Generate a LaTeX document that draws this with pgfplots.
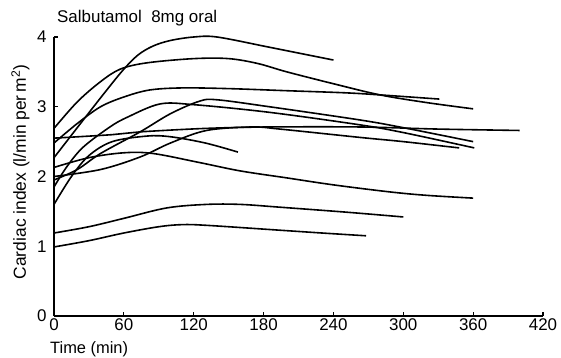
\documentclass[border=0pt]{standalone}
\usepackage{pgfplots}
\pgfplotsset{compat=1.18}
\usepackage{fontspec}
\setmainfont{Liberation Sans}
\begin{document}
\begin{tikzpicture}[x=1bp,y=1bp]
\begin{axis}[
  at={(0,0)}, anchor=south west,
  scale only axis, width=489bp, height=279bp,
  xmin=0, xmax=420, ymin=0, ymax=4,
  axis lines=left, axis line style={-, line width=1.3bp},
  xtick={0,60,...,420}, ytick={0,1,2,3,4},
  tick align=inside, major tick length=4bp,
  tick style={line width=1.1bp, black},
  /pgf/number format/assume math mode=true,
  ticklabel style={font=\fontsize{17}{19}\selectfont},
  yticklabel style={xshift=-4bp},
  xticklabel style={yshift=1bp},
  clip=false,
  cycle list={{black, solid}},
  every axis plot post/.append style={black, solid, line width=1.6bp, smooth, tension=0.55, mark=none},
]
% A
\addplot coordinates {(0,2.27)(20,2.7)(42,3.17)(59,3.52)(72,3.74)(85,3.87)(100,3.95)(120,4.0)(140,4.0)(183,3.86)(210,3.77)(240,3.67)};
% B
\addplot coordinates {(0,2.69)(20,3.07)(40,3.36)(57,3.54)(80,3.63)(120,3.69)(150,3.69)(175,3.62)(200,3.5)(240,3.33)(280,3.17)(320,3.06)(360,2.97)};
% C
\addplot coordinates {(0,2.48)(20,2.76)(40,3.0)(60,3.14)(82,3.24)(110,3.27)(150,3.26)(200,3.23)(250,3.2)(280,3.17)(331,3.11)};
% D
\addplot coordinates {(0,2.55)(50,2.6)(74,2.64)(131,2.69)(185,2.71)(263,2.71)(330,2.68)(400,2.66)};
% E
\addplot coordinates {(0,1.95)(20,2.1)(40,2.33)(74,2.64)(100,2.9)(125,3.08)(140,3.1)(185,3.0)(263,2.81)(300,2.7)(360,2.5)};
% F
\addplot coordinates {(0,1.85)(11,2.14)(25,2.42)(48,2.71)(63,2.85)(91,3.04)(120,3.03)(185,2.92)(263,2.74)(300,2.63)(361,2.41)};
% G
\addplot coordinates {(0,2.0)(40,2.1)(74,2.28)(100,2.48)(131,2.66)(170,2.71)(194,2.68)(263,2.56)(300,2.5)(348,2.41)};
% H
\addplot coordinates {(0,1.6)(15,2.0)(30,2.3)(50,2.5)(80,2.58)(100,2.57)(130,2.48)(158,2.35)};
% I
\addplot coordinates {(0,2.13)(30,2.27)(60,2.34)(85,2.33)(125,2.2)(160,2.08)(200,1.98)(240,1.88)(288,1.78)(320,1.73)(360,1.69)};
% J
\addplot coordinates {(0,1.19)(30,1.28)(60,1.4)(97,1.55)(131,1.6)(160,1.6)(194,1.56)(250,1.49)(300,1.42)};
% K
\addplot coordinates {(0,0.99)(30,1.08)(60,1.19)(90,1.28)(110,1.31)(131,1.3)(194,1.23)(230,1.19)(268,1.15)};
\end{axis}
\node[anchor=base west, inner sep=0pt, font=\fontsize{17}{19}\selectfont] at (3,294) {Salbutamol\ \ 8mg oral};
\node[anchor=base west, inner sep=0pt, font=\fontsize{16.5}{18}\selectfont] at (-4,-37) {Time (min)};
\node[rotate=90, anchor=base, inner sep=0pt, font=\fontsize{17.5}{19}\selectfont] at (-28,144) {Cardiac index (l/min per\,m\textsuperscript{2})};
\pgfresetboundingbox
\useasboundingbox (-54,-41) rectangle (507,316);
\end{tikzpicture}
\end{document}
